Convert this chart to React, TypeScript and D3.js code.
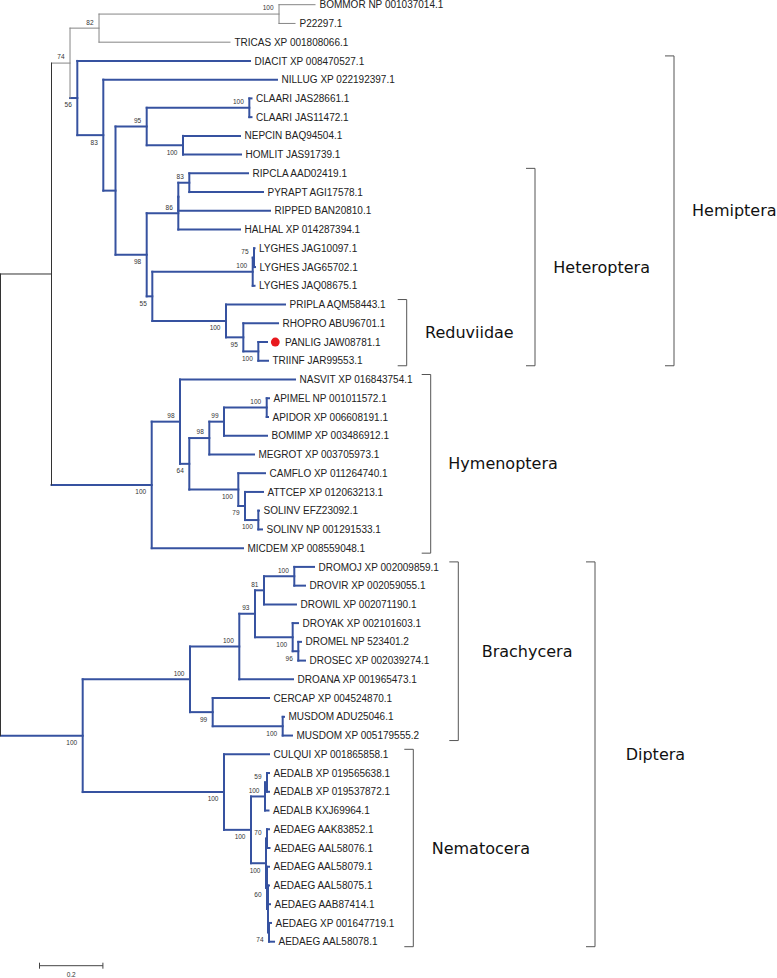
import React, { useMemo } from "react";
import * as d3 from "d3";

// ---------- DATA ----------
// Tree edges: [node id, parent id, branch length (substitutions/site), bootstrap support]
const treeEdges: [string, string, number, number | null][] = [
  ["root", "", 0, null],
  ["A", "root", 0.1609, null],
  ["Dp", "root", 0.2593, 100],
  ["B", "A", 0.0584, 74],
  ["T", "A", 0.3161, 100],
  ["C", "B", 0.0915, 82],
  ["D", "B", 0.023, 56],
  ["E", "C", 0.5678, 100],
  ["TRICAS XP 001808066.1", "C", 0.4132, null],
  ["BOMMOR NP 001037014.1", "E", 0.1136, null],
  ["P22297.1", "E", 0.0505, null],
  ["DIACIT XP 008470527.1", "D", 0.5448, null],
  ["F", "D", 0.082, 83],
  ["NILLUG XP 022192397.1", "F", 0.5479, null],
  ["G", "F", 0.0385, null],
  ["H", "G", 0.0984, 95],
  ["I", "G", 0.0984, 98],
  ["J", "H", 0.3237, 100],
  ["K", "H", 0.1145, 100],
  ["CLAARI JAS28661.1", "J", 0.0069, null],
  ["CLAARI JAS11472.1", "J", 0.0069, null],
  ["NEPCIN BAQ94504.1", "K", 0.1798, null],
  ["HOMLIT JAS91739.1", "K", 0.183, null],
  ["L", "I", 0.0997, 86],
  ["M", "I", 0.0177, 55],
  ["L2", "L", 0, null],
  ["HALHAL XP 014287394.1", "L", 0.1946, null],
  ["N", "L2", 0.0347, 83],
  ["RIPPED BAN20810.1", "L2", 0.2893, null],
  ["RIPCLA AAD02419.1", "N", 0.1852, null],
  ["PYRAPT AGI17578.1", "N", 0.2325, null],
  ["O", "M", 0.3167, 100],
  ["Q", "M", 0.2325, 100],
  ["P", "O", 0.0041, 75],
  ["LYGHES JAQ08675.1", "O", 0.0057, null],
  ["LYGHES JAG10097.1", "P", 0.0016, null],
  ["LYGHES JAG65702.1", "P", 0.0032, null],
  ["PRIPLA AQM58443.1", "Q", 0.1861, null],
  ["R", "Q", 0.0546, 95],
  ["RHOPRO ABU96701.1", "R", 0.1095, null],
  ["S", "R", 0.0473, 100],
  ["PANLIG JAW08781.1", "S", 0.0274, null],
  ["TRIINF JAR99553.1", "S", 0.0306, null],
  ["U", "T", 0.0893, 98],
  ["MICDEM XP 008559048.1", "T", 0.288, null],
  ["NASVIT XP 016843754.1", "U", 0.3628, null],
  ["V", "U", 0.0293, 64],
  ["W", "V", 0.0631, 98],
  ["X", "V", 0.1546, 100],
  ["Y", "W", 0.0464, 99],
  ["MEGROT XP 003705973.1", "W", 0.141, null],
  ["Z", "Y", 0.1347, 100],
  ["BOMIMP XP 003486912.1", "Y", 0.1356, null],
  ["APIMEL NP 001011572.1", "Z", 0.0073, null],
  ["APIDOR XP 006608191.1", "Z", 0.0041, null],
  ["CAMFLO XP 011264740.1", "X", 0.0842, null],
  ["X2", "X", 0.0211, 79],
  ["ATTCEP XP 012063213.1", "X2", 0.0568, null],
  ["X3", "X2", 0.042, 100],
  ["SOLINV EFZ23092.1", "X3", 0.0022, null],
  ["SOLINV NP 001291533.1", "X3", 0.0117, null],
  ["Br", "Dp", 0.3385, 100],
  ["Ne", "Dp", 0.4457, 100],
  ["Br1", "Br", 0.1555, 100],
  ["Br2", "Br", 0.0716, 99],
  ["Br3", "Br1", 0.0495, 93],
  ["DROANA XP 001965473.1", "Br1", 0.1694, null],
  ["Br4", "Br3", 0.0284, 81],
  ["Br5", "Br3", 0.1189, 100],
  ["Br6", "Br4", 0.0956, 100],
  ["DROWIL XP 002071190.1", "Br4", 0.1009, null],
  ["DROMOJ XP 002009859.1", "Br6", 0.0621, null],
  ["DROVIR XP 002059055.1", "Br6", 0.0338, null],
  ["DROYAK XP 002101603.1", "Br5", 0.0167, null],
  ["Br7", "Br5", 0.0177, 96],
  ["DROMEL NP 523401.2", "Br7", 0.0085, null],
  ["DROSEC XP 002039274.1", "Br7", 0.0211, null],
  ["CERCAP XP 004524870.1", "Br2", 0.1776, null],
  ["Br8", "Br2", 0.2208, 100],
  ["MUSDOM ADU25046.1", "Br8", 0.0041, null],
  ["MUSDOM XP 005179555.2", "Br8", 0.0293, null],
  ["CULQUI XP 001865858.1", "Ne", 0.142, null],
  ["Ne1", "Ne", 0.0852, 100],
  ["Ne2", "Ne1", 0.0442, 100],
  ["Ne4", "Ne1", 0.0473, 100],
  ["Ne3", "Ne2", 0.0063, 59],
  ["AEDALB KXJ69964.1", "Ne2", 0.011, null],
  ["AEDALB XP 019565638.1", "Ne3", 0.0063, null],
  ["AEDALB XP 019537872.1", "Ne3", 0.0063, null],
  ["Ne5", "Ne4", 0.0032, 70],
  ["Ne6", "Ne4", 0.0032, 60],
  ["AEDAEG AAK83852.1", "Ne5", 0.0063, null],
  ["AEDAEG AAL58076.1", "Ne5", 0.0079, null],
  ["AEDAEG AAL58079.1", "Ne6", 0.0063, null],
  ["Ne7", "Ne6", 0.0032, null],
  ["AEDAEG AAL58075.1", "Ne7", 0.0032, null],
  ["AEDAEG AAB87414.1", "Ne7", 0.0063, null],
  ["Ne9", "Ne7", 0.0032, 74],
  ["AEDAEG XP 001647719.1", "Ne9", 0.0063, null],
  ["AEDAEG AAL58078.1", "Ne9", 0.0158, null],
];

// Subtrees drawn in blue (ingroup insects) and grey (outgroup)
const blueClades = ["D", "T", "Dp"];
const greyClades = ["B"];

// Highlighted sequence (red dot)
const markedLeaf = "PANLIG JAW08781.1";

// Clade brackets
const cladeNames = ["Reduviidae", "Heteroptera", "Hemiptera", "Hymenoptera", "Brachycera", "Nematocera", "Diptera"];
const cladeFirst = ["PRIPLA AQM58443.1", "RIPCLA AAD02419.1", "DIACIT XP 008470527.1", "NASVIT XP 016843754.1", "DROMOJ XP 002009859.1", "CULQUI XP 001865858.1", "DROMOJ XP 002009859.1"];
const cladeLast = ["TRIINF JAR99553.1", "TRIINF JAR99553.1", "TRIINF JAR99553.1", "MICDEM XP 008559048.1", "MUSDOM XP 005179555.2", "AEDAEG AAL58078.1", "AEDAEG AAL58078.1"];

// Scale bar
const scaleBarValue = 0.2;

// ---------- LAYOUT ----------
const W = 777;
const H = 978;
const bracketX = [406.7, 535, 674, 430.7, 458.3, 413.3, 595];
const bracketLabelDx = [18.3, 18.3, 18, 17.6, 23.4, 18.4, 30.7];
const BLUE = "#3652a0";
const GREY = "#858585";
const DARK = "#333333";

type N = d3.HierarchyNode<[string, string, number, number | null]> & { px?: number; py?: number; col?: string };

export default function App() {
  const { nodes, leaves, xScale, yOf } = useMemo(() => {
    const root = d3
      .stratify<[string, string, number, number | null]>()
      .id((d) => d[0])
      .parentId((d) => (d[1] === "" ? null : d[1]))(treeEdges) as N;

    const xScale = d3.scaleLinear().domain([0, 1]).range([0.5, 317.5]);
    const leaves = root.leaves() as N[];
    const yScale = d3.scaleLinear().domain([0, leaves.length - 1]).range([4.7, 941.7]);

    // depth (cumulative branch length)
    root.eachBefore((n: any) => {
      n.dist = n.parent ? n.parent.dist + n.data[2] : 0;
      n.px = xScale(n.dist);
      const id = n.data[0];
      if (blueClades.includes(id)) n.col = BLUE;
      else if (greyClades.includes(id)) n.col = GREY;
      else n.col = n.parent ? n.parent.col : DARK;
    });
    leaves.forEach((l, i) => (l.py = yScale(i)));
    root.eachAfter((n: any) => {
      if (n.children) n.py = (n.children[0].py + n.children[n.children.length - 1].py) / 2;
    });
    const yOf = new Map<string, number>();
    leaves.forEach((l) => yOf.set(l.data[0], l.py!));
    return { nodes: root.descendants() as N[], leaves, xScale, yOf };
  }, []);

  const sw = (c: string) => (c === BLUE ? 2 : 1);

  return (
    <svg
      width={W}
      height={H}
      style={{ position: "absolute", left: 0, top: 0, background: "#fff" }}
      fontFamily="'Liberation Sans', Arial, sans-serif"
    >
      <rect width={W} height={H} fill="#fff" />
      {/* horizontal branches */}
      {nodes
        .filter((n) => n.parent)
        .map((n, i) => (
          <line
            key={"h" + i}
            x1={(n.parent as N).px}
            x2={n.px}
            y1={n.py}
            y2={n.py}
            stroke={n.col}
            strokeWidth={sw(n.col!)}
            strokeLinecap="square"
          />
        ))}
      {/* vertical connectors */}
      {nodes
        .filter((n) => n.children)
        .map((n, i) => (
          <line
            key={"v" + i}
            x1={n.px}
            x2={n.px}
            y1={(n.children![0] as N).py}
            y2={(n.children![n.children!.length - 1] as N).py}
            stroke={n.col}
            strokeWidth={sw(n.col!)}
            strokeLinecap="square"
          />
        ))}
      {/* bootstrap values */}
      {nodes
        .filter((n) => n.data[3] != null && n.parent)
        .map((n, i) => {
          const first = n.parent!.children![0] === n;
          return (
            <text
              key={"b" + i}
              x={n.px! - 5.5}
              y={first ? n.py! - 3.6 : n.py! + 9.4}
              textAnchor="end"
              fontSize={6.5}
              fill="#333"
            >
              {n.data[3]}
            </text>
          );
        })}
      {/* leaf labels */}
      {leaves.map((l, i) => {
        const marked = l.data[0] === markedLeaf;
        return (
          <g key={"l" + i}>
            {marked && <circle cx={l.px! + 8.3} cy={l.py} r={4.4} fill="#e8191e" />}
            <text x={l.px! + (marked ? 18 : 4.5)} y={l.py! + 3.6} fontSize={10} fill="#222">
              {l.data[0]}
            </text>
          </g>
        );
      })}
      {/* clade brackets */}
      {cladeNames.map((name, i) => {
        const y1 = yOf.get(cladeFirst[i])! - 5;
        const y2 = yOf.get(cladeLast[i])! + 5;
        const x = bracketX[i];
        return (
          <g key={"c" + i}>
            <path
              d={`M${x - 9},${y1}H${x}V${y2}H${x - 9}`}
              fill="none"
              stroke="#555"
              strokeWidth={1}
            />
            <text
              x={x + bracketLabelDx[i]}
              y={(y1 + y2) / 2}
              dominantBaseline="central"
              fontFamily="'DejaVu Sans', Verdana, sans-serif"
              fontSize={16}
              fill="#111"
            >
              {name}
            </text>
          </g>
        );
      })}
      {/* scale bar */}
      {(() => {
        const x0 = 39.5;
        const len = xScale(scaleBarValue) - xScale(0);
        const y = 965.7;
        return (
          <g stroke="#444" strokeWidth={1}>
            <line x1={x0} x2={x0 + len} y1={y} y2={y} />
            <line x1={x0} x2={x0} y1={y - 3} y2={y + 3} />
            <line x1={x0 + len} x2={x0 + len} y1={y - 3} y2={y + 3} />
            <text x={x0 + len / 2} y={977} textAnchor="middle" fontSize={6.5} fill="#333" stroke="none">
              {scaleBarValue}
            </text>
          </g>
        );
      })()}
    </svg>
  );
}
